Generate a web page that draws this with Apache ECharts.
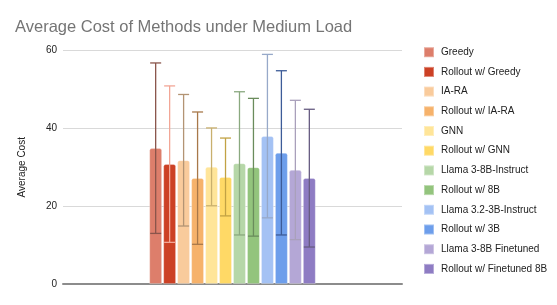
<!DOCTYPE html>
<html>
<head>
<meta charset="utf-8">
<script src="https://cdn.jsdelivr.net/npm/echarts@6/dist/echarts.min.js"></script>
<style>
html,body{margin:0;padding:0;background:#fff;}
#chart{width:557px;height:305px;}
</style>
</head>
<body>
<div id="chart"></div>
<script>
var methods = ['Greedy', 'Rollout w/ Greedy', 'IA-RA', 'Rollout w/ IA-RA', 'GNN', 'Rollout w/ GNN',
  'Llama 3-8B-Instruct', 'Rollout w/ 8B', 'Llama 3.2-3B-Instruct', 'Rollout w/ 3B',
  'Llama 3-8B Finetuned', 'Rollout w/ Finetuned 8B'];
var means = [34.9, 30.8, 31.8, 27.2, 30.1, 27.5, 31.0, 30.0, 38.0, 33.7, 29.3, 27.2];
var stds = [21.9, 20.1, 16.9, 17.0, 10.0, 10.0, 18.4, 17.7, 21.0, 21.1, 17.9, 17.7];
var yTicks = [0, 20, 40, 60];

var barColors = ['#dd7e6b', '#cc4125', '#f9cb9c', '#f6b26b', '#ffe599', '#ffd966',
  '#b6d7a8', '#93c47d', '#a4c2f4', '#6d9eeb', '#b4a7d6', '#8e7cc3'];
var errColors = ['#8a554b', '#f2a696', '#b39474', '#a8784a', '#c9b06e', '#c2a244',
  '#8aa97f', '#6a8c5c', '#97a9c9', '#3d5c98', '#a9a0bb', '#675c82'];

var FONT = '"Liberation Sans", Arial, sans-serif';
var BAR_W = 12.7;
var GAP = 0.1;
var N = methods.length;

var series = [];
methods.forEach(function (m, i) {
  series.push({
    name: m,
    type: 'bar',
    data: [means[i]],
    barWidth: BAR_W,
    barGap: (GAP * 100) + '%',
    itemStyle: {color: barColors[i], borderRadius: [2, 2, 0, 0], borderColor: 'rgba(255,255,255,0.35)', borderWidth: 0.8},
    emphasis: {disabled: true},
    z: 2
  });
});
methods.forEach(function (m, i) {
  series.push({
    name: m + ' error',
    type: 'custom',
    z: 3,
    silent: true,
    encode: {x: 0, y: [1, 2]},
    data: [[0, means[i] - stds[i], means[i] + stds[i]]],
    renderItem: function (params, api) {
      var lo = api.coord([api.value(0), api.value(1)]);
      var hi = api.coord([api.value(0), api.value(2)]);
      var total = N * BAR_W + (N - 1) * BAR_W * GAP;
      var x = lo[0] - total / 2 + i * BAR_W * (1 + GAP) + BAR_W / 2;
      var cap = 5.5;
      var st = {stroke: errColors[i], lineWidth: 1.3, fill: null};
      return {
        type: 'group',
        children: [
          {type: 'line', shape: {x1: x, y1: lo[1], x2: x, y2: hi[1]}, style: st},
          {type: 'line', shape: {x1: x - cap, y1: hi[1], x2: x + cap, y2: hi[1]}, style: st},
          {type: 'line', shape: {x1: x - cap, y1: lo[1], x2: x + cap, y2: lo[1]}, style: st}
        ]
      };
    }
  });
});

var chart = echarts.init(document.getElementById('chart'), null, {renderer: 'canvas'});
chart.setOption({
  animation: false,
  backgroundColor: '#fff',
  textStyle: {fontFamily: FONT},
  title: {
    text: 'Average Cost of Methods under Medium Load',
    left: 10, top: 14,
    textStyle: {fontFamily: FONT, fontSize: 16.5, fontWeight: 'normal', color: '#757575'}
  },
  grid: {left: 63, right: 155, top: 50.5, bottom: 21, containLabel: false},
  legend: {
    orient: 'vertical',
    left: 418, top: 41.2, height: 260,
    data: methods,
    icon: 'rect',
    itemWidth: 10, itemHeight: 10,
    itemGap: 7.7,
    selectedMode: false,
    textStyle: {fontFamily: FONT, fontSize: 10, color: '#222', lineHeight: 10, padding: [0, 0, 0, 2]}
  },
  xAxis: {
    type: 'category',
    data: ['Medium Load'],
    axisLabel: {show: false},
    axisTick: {show: false},
    axisLine: {lineStyle: {color: '#8c8c8c', width: 2}}
  },
  yAxis: {
    type: 'value',
    min: yTicks[0], max: yTicks[yTicks.length - 1], interval: yTicks[1] - yTicks[0],
    name: 'Average Cost',
    nameLocation: 'middle',
    nameGap: 36,
    nameTextStyle: {fontFamily: FONT, fontSize: 10, color: '#222'},
    axisLine: {show: false},
    axisTick: {show: false},
    axisLabel: {fontFamily: FONT, fontSize: 10, color: '#222', margin: 6},
    splitLine: {lineStyle: {color: '#d9d9d9', width: 1}}
  },
  series: series
});
</script>
</body>
</html>
